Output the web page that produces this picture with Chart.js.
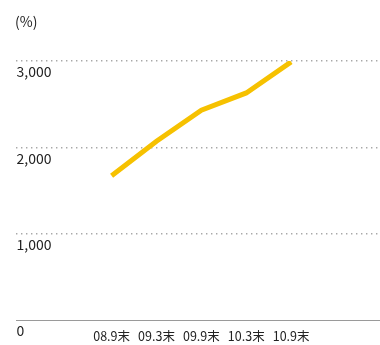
<!DOCTYPE html>
<html>
<head>
<meta charset="utf-8">
<script src="https://cdn.jsdelivr.net/npm/chart.js@4.4.1/dist/chart.umd.min.js"></script>
<style>
  html, body { margin: 0; padding: 0; background: #fff; }
  #wrap { width: 380px; height: 345px; }
</style>
</head>
<body>
<div id="wrap"><canvas id="myChart" width="380" height="345"></canvas></div>
<script>
// chart data
const categories = ['08.9末', '09.3末', '09.9末', '10.3末', '10.9末'];
const values = [1670, 2070, 2430, 2630, 2990];
const yTicks = [0, 1000, 2000, 3000];
const unitLabel = '(%)';

const fontFamily = '"Noto Sans CJK JP", "Noto Sans", sans-serif';
const textColor = '#222';

const ctx = document.getElementById('myChart').getContext('2d');

new Chart(ctx, {
  type: 'line',
  data: {
    datasets: [{
      data: values.map((v, i) => ({ x: i, y: v })),
      borderColor: '#f6c100',
      borderWidth: 5,
      borderCapStyle: 'butt',
      borderJoinStyle: 'miter',
      pointRadius: 0,
      tension: 0,
      fill: false
    }]
  },
  options: {
    responsive: false,
    animation: false,
    layout: { padding: { left: 15, right: 0, top: 0, bottom: 0 } },
    plugins: {
      legend: { display: false },
      tooltip: { enabled: false },
      title: {
        display: true,
        text: unitLabel,
        align: 'start',
        color: textColor,
        font: { family: fontFamily, size: 14, weight: 'normal', lineHeight: 1.2 },
        padding: { top: 13, bottom: 31.2 }
      }
    },
    scales: {
      x: {
        type: 'linear',
        min: -2.13,
        max: 5.98,
        afterBuildTicks: (scale) => {
          scale.ticks = categories.map((_, i) => ({ value: i }));
        },
        afterFit: (scale) => { scale.height = 25; },
        grid: { display: false, drawTicks: false },
        border: { display: true, color: '#9a9a9a', width: 1 },
        ticks: {
          autoSkip: false,
          maxRotation: 0,
          padding: 8.5,
          color: textColor,
          font: { family: fontFamily, size: 12.5 },
          callback: (value) => categories[value]
        }
      },
      y: {
        min: 0,
        max: 3000,
        afterBuildTicks: (scale) => {
          scale.ticks = yTicks.map(v => ({ value: v }));
        },
        grid: {
          drawTicks: false,
          lineWidth: 1.4,
          color: (c) => (c.tick && c.tick.value === 0) ? 'rgba(0,0,0,0)' : '#a8a8a8'
        },
        border: { display: false, dash: [1.4, 3.6] },
        ticks: {
          mirror: true,
          padding: 0.5,
          labelOffset: 11,
          color: textColor,
          font: { family: fontFamily, size: 14 },
          callback: (value) => value.toLocaleString('en-US')
        }
      }
    }
  }
});
</script>
</body>
</html>
